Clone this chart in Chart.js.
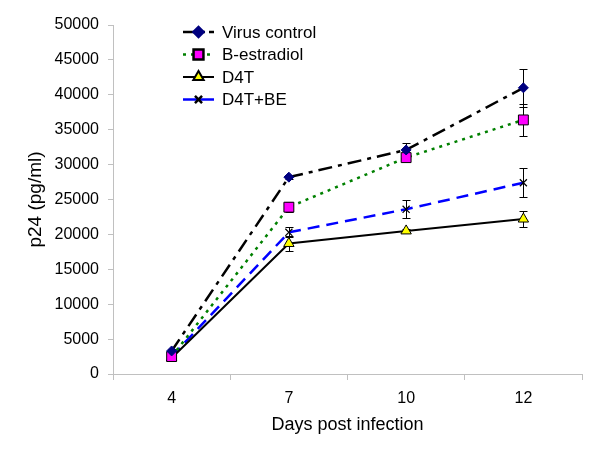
<!DOCTYPE html>
<html>
<head>
<meta charset="utf-8">
<script src="https://cdn.jsdelivr.net/npm/chart.js@4.4.1/dist/chart.umd.min.js"></script>
<style>
  html, body { margin: 0; padding: 0; background: #fff; }
</style>
</head>
<body>
<canvas id="p24Chart" width="600" height="452"></canvas>
<script>
// days post infection (categories)
const days = ["4", "7", "10", "12"];

// p24 (pg/ml) means
const virusControl = [3300, 28200, 32100, 41000];
const bEstradiol = [2500, 23900, 31000, 36400];
const d4t = [2300, 18700, 20500, 22200];
const d4tBe = [2500, 20300, 23600, 27400];

// error bar half-heights
const virusControlErr = [300, 300, 1000, 2700];
const bEstradiolErr = [200, 700, 500, 2300];
const d4tErr = [200, 1100, 300, 1100];
const d4tBeErr = [200, 700, 1300, 2050];

const yTicks = [0, 5000, 10000, 15000, 20000, 25000, 30000, 35000, 40000, 45000, 50000];

const FONT = "'Liberation Sans', Arial, sans-serif";
const AXIS_GREY = "#c0c0c0";

// vertical error bars, drawn under the markers
const errorBars = {
  id: "errorBars",
  beforeDatasetsDraw(chart) {
    const ctx = chart.ctx;
    const y = chart.scales.y;
    ctx.save();
    ctx.strokeStyle = "#000";
    ctx.lineWidth = 1;
    chart.data.datasets.forEach((ds, i) => {
      if (!ds.errors) return;
      const meta = chart.getDatasetMeta(i);
      meta.data.forEach((pt, j) => {
        const v = ds.data[j];
        const e = ds.errors[j];
        const top = Math.round(y.getPixelForValue(v + e)) + 0.5;
        const bot = Math.round(y.getPixelForValue(v - e)) + 0.5;
        const x = Math.round(pt.x) + 0.5;
        ctx.beginPath();
        ctx.moveTo(x, top); ctx.lineTo(x, bot);
        ctx.moveTo(x - 4, top); ctx.lineTo(x + 4, top);
        ctx.moveTo(x - 4, bot); ctx.lineTo(x + 4, bot);
        ctx.stroke();
      });
    });
    ctx.restore();
  }
};

// legend inside the plot, line sample + marker like the original
const lineLegend = {
  id: "lineLegend",
  afterDraw(chart) {
    const ctx = chart.ctx;
    const x0 = 183, x1 = 214, tx = 222;
    const rows = [32, 54.5, 77, 99.5];
    ctx.save();
    chart.data.datasets.forEach((ds, i) => {
      const yy = rows[i];
      ctx.strokeStyle = ds.borderColor;
      ctx.lineWidth = ds.borderWidth;
      ctx.setLineDash(ds.legendDash || []);
      ctx.beginPath();
      ctx.moveTo(x0, yy); ctx.lineTo(x1, yy);
      ctx.stroke();
      ctx.setLineDash([]);
      ctx.fillStyle = ds.pointBackgroundColor;
      ctx.strokeStyle = ds.pointBorderColor;
      Chart.helpers.drawPoint(ctx, {
        pointStyle: ds.pointStyle,
        radius: ds.pointRadius,
        borderWidth: ds.pointBorderWidth,
        rotation: 0
      }, (x0 + x1) / 2, yy);
      ctx.fillStyle = "#000";
      ctx.font = "17px " + FONT;
      ctx.textBaseline = "middle";
      ctx.fillText(ds.label, tx, yy + 1);
    });
    ctx.restore();
  }
};

new Chart(document.getElementById("p24Chart"), {
  type: "line",
  data: {
    labels: days,
    datasets: [
      {
        label: "Virus control",
        data: virusControl,
        errors: virusControlErr,
        borderColor: "#000",
        borderWidth: 2.5,
        borderDash: [14, 6, 4, 6],
        legendDash: [14, 4, 4, 4],
        pointStyle: "rectRot",
        pointRadius: 5,
        pointBackgroundColor: "#000080",
        pointBorderColor: "#000080",
        pointBorderWidth: 1
      },
      {
        label: "B-estradiol",
        data: bEstradiol,
        errors: bEstradiolErr,
        borderColor: "#008000",
        borderWidth: 2.5,
        borderDash: [3, 5],
        legendDash: [3, 5],
        pointStyle: "rect",
        pointRadius: 7,
        pointBackgroundColor: "#ff00ff",
        pointBorderColor: "#000",
        pointBorderWidth: 1
      },
      {
        label: "D4T",
        data: d4t,
        errors: d4tErr,
        borderColor: "#000",
        borderWidth: 2,
        pointStyle: "triangle",
        pointRadius: 6,
        pointBackgroundColor: "#ffff00",
        pointBorderColor: "#000",
        pointBorderWidth: 1
      },
      {
        label: "D4T+BE",
        data: d4tBe,
        errors: d4tBeErr,
        borderColor: "#0000ff",
        borderWidth: 2.5,
        borderDash: [12, 7],
        legendDash: [],
        pointStyle: "crossRot",
        pointRadius: 5,
        pointBackgroundColor: "#000",
        pointBorderColor: "#000",
        pointBorderWidth: 1.2
      }
    ]
  },
  options: {
    responsive: false,
    animation: false,
    tension: 0,
    layout: { padding: { left: 0, right: 18, top: 25, bottom: 0 } },
    plugins: {
      legend: { display: false },
      tooltip: { enabled: false }
    },
    scales: {
      x: {
        offset: true,
        afterFit(scale) { scale.height = 78; },
        grid: {
          offset: true,
          drawOnChartArea: false,
          drawTicks: true,
          tickLength: 6,
          color: AXIS_GREY
        },
        border: { color: AXIS_GREY },
        ticks: { color: "#000", font: { family: FONT, size: 16 }, padding: 9 },
        title: {
          display: true,
          text: "Days post infection",
          color: "#000",
          font: { family: FONT, size: 18 },
          padding: { top: 0, bottom: 16 }
        }
      },
      y: {
        min: 0,
        max: 50000,
        afterFit(scale) { scale.width = 113; },
        afterBuildTicks(scale) { scale.ticks = yTicks.map(v => ({ value: v })); },
        grid: {
          drawOnChartArea: false,
          drawTicks: true,
          tickLength: 5,
          color: AXIS_GREY
        },
        border: { color: AXIS_GREY },
        ticks: {
          color: "#000",
          font: { family: FONT, size: 16 },
          padding: 9,
          callback: v => String(v)
        },
        title: {
          display: true,
          text: "p24 (pg/ml)",
          color: "#000",
          font: { family: FONT, size: 19 },
          padding: { top: 24, bottom: 0 }
        }
      }
    }
  },
  plugins: [errorBars, lineLegend]
});
</script>
</body>
</html>
